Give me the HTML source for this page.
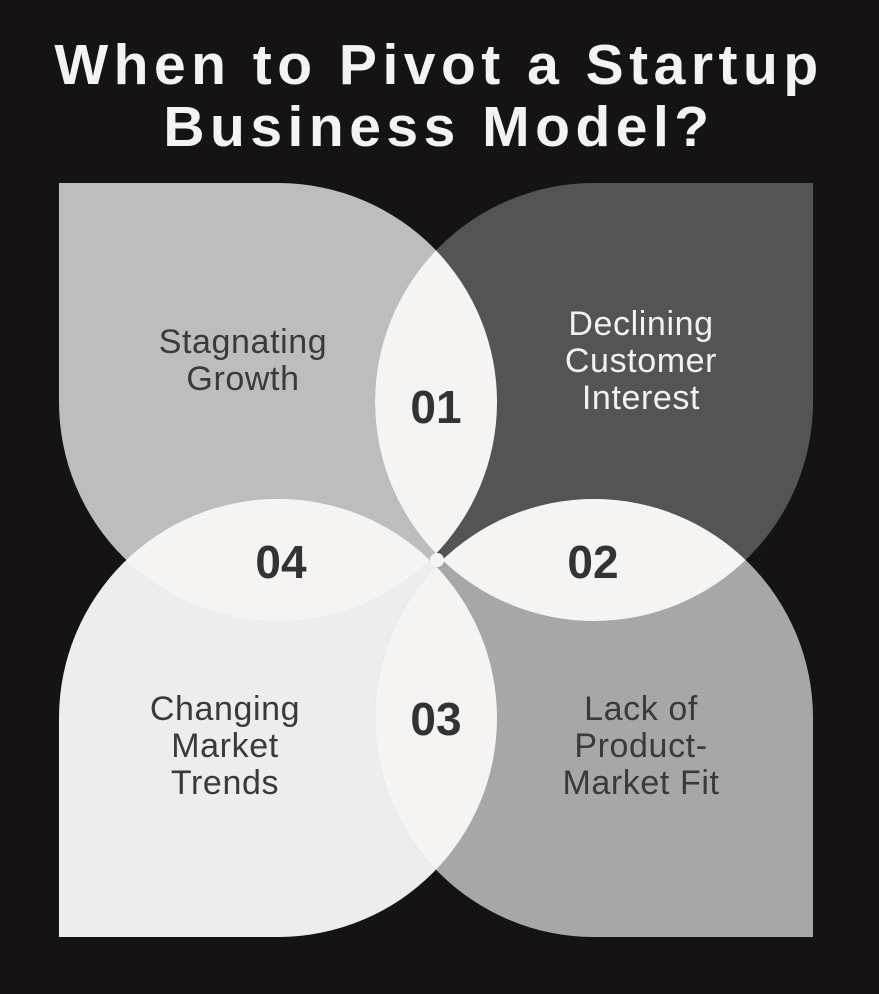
<!DOCTYPE html>
<html><head><meta charset="utf-8"><style>
html,body{margin:0;padding:0;background:#151313;}
body{width:879px;height:994px;overflow:hidden;}
svg{display:block}
</style></head><body>
<svg width="879" height="994" viewBox="0 0 879 994" xmlns="http://www.w3.org/2000/svg">
<defs>
<path id="tl" d="M59,183 L280,183 A219 219 0 1 1 59,402 Z"/>
<path id="tr" d="M813,183 L813,402 A219 219 0 1 1 593,183 Z"/>
<path id="bl" d="M59,937 L59,717 A219 219 0 1 1 280,937 Z"/>
<path id="br" d="M813,937 L593,937 A219 219 0 1 1 813,717 Z"/>
<clipPath id="ctl"><use href="#tl"/></clipPath>
<clipPath id="ctr"><use href="#tr"/></clipPath>
<clipPath id="cbl"><use href="#bl"/></clipPath>
<clipPath id="cbr"><use href="#br"/></clipPath>
</defs>
<rect width="879" height="994" fill="#151313"/>
<text x="439" y="84" text-anchor="middle" font-family="Liberation Sans, sans-serif" font-weight="bold" font-size="57" letter-spacing="5.5" fill="#f3f3f3">When to Pivot a Startup</text>
<text x="439" y="146" text-anchor="middle" font-family="Liberation Sans, sans-serif" font-weight="bold" font-size="57" letter-spacing="5.5" fill="#f3f3f3">Business Model?</text>
<use href="#tl" fill="#bdbdbd"/>
<use href="#tr" fill="#545454"/>
<use href="#bl" fill="#ededed"/>
<use href="#br" fill="#a7a7a7"/>
<use href="#tr" fill="#f6f4f3" clip-path="url(#ctl)"/>
<use href="#br" fill="#f6f4f3" clip-path="url(#ctr)"/>
<use href="#bl" fill="#f6f4f3" clip-path="url(#cbr)"/>
<use href="#tl" fill="#f6f4f3" clip-path="url(#cbl)"/>
<circle cx="437" cy="560" r="7" fill="#f6f4f3"/>
<g font-family="Liberation Sans, sans-serif" font-size="34" letter-spacing="0.6" text-anchor="middle" fill="#3a3a3a">
<text x="243" y="353">Stagnating</text>
<text x="243" y="390">Growth</text>
<text x="641" y="335" fill="#f2f2f2">Declining</text>
<text x="641" y="372" fill="#f2f2f2">Customer</text>
<text x="641" y="409" fill="#f2f2f2">Interest</text>
<text x="225" y="720">Changing</text>
<text x="225" y="757">Market</text>
<text x="225" y="794">Trends</text>
<text x="641" y="720">Lack of</text>
<text x="641" y="757">Product-</text>
<text x="641" y="794">Market Fit</text>
</g>
<g font-family="Liberation Sans, sans-serif" font-size="46" font-weight="bold" text-anchor="middle" fill="#333">
<text x="436" y="423">01</text>
<text x="593" y="578">02</text>
<text x="436" y="735">03</text>
<text x="281" y="578">04</text>
</g>
</svg>
</body></html>
